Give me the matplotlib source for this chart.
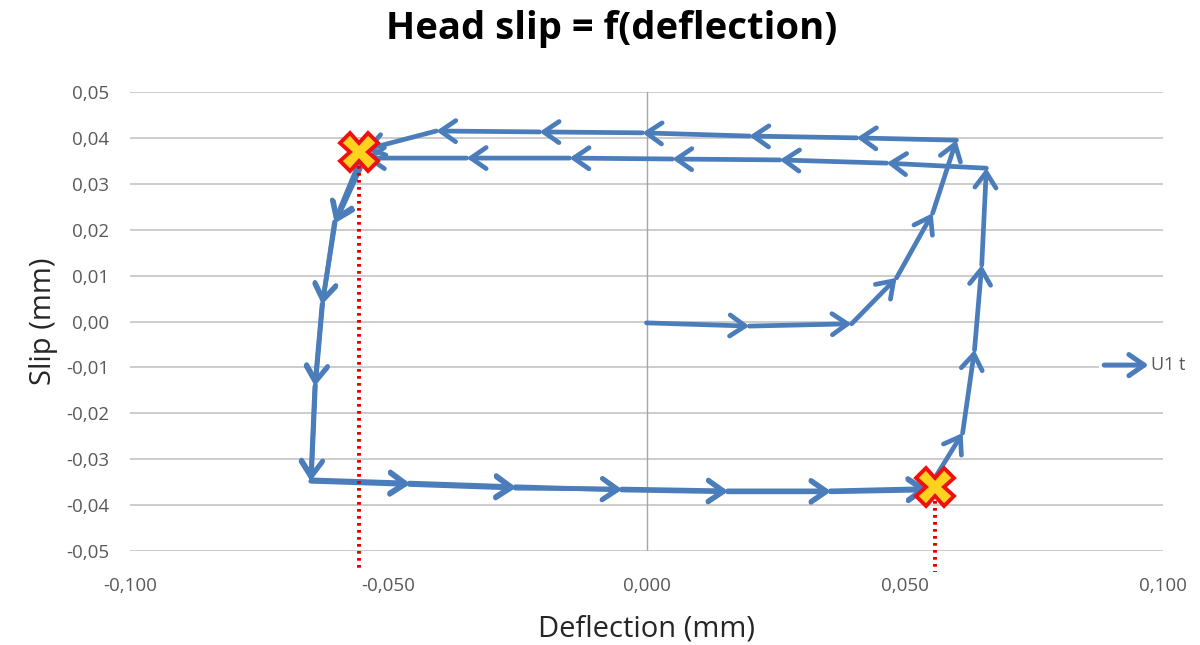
"""
Head slip = f(deflection) : boucle glissement / fleche avec fleches Excel.
"""

import matplotlib
matplotlib.use("Agg")
import matplotlib.pyplot as plt
from matplotlib.patches import Rectangle

# ── Donnees (mm) ─────────────────────────────────────────────────────────────
deflection = [
    0.0000, 0.0199, 0.0397, 0.0484, 0.0554, 0.0600,
    0.0407, 0.0199, -0.0008, -0.0207, -0.0407, -0.0546,
    -0.0604, -0.0627, -0.0641, -0.0649,
    -0.0459, -0.0254, -0.0048, 0.0157, 0.0356, 0.0544,
    0.0612, 0.0635, 0.0649, 0.0658,
    0.0465, 0.0258, 0.0050, -0.0149, -0.0348, -0.0545,
    -0.0603, -0.0628, -0.0642, -0.0650,
    -0.0459, -0.0254, -0.0048, 0.0157, 0.0356, 0.0544,
]
slip = [
    -0.0003, -0.0010, -0.0005, 0.0095, 0.0236, 0.0395,
    0.0400, 0.0404, 0.0411, 0.0413, 0.0415, 0.0374,
    0.0217, 0.0040, -0.0138, -0.0345,
    -0.0352, -0.0360, -0.0367, -0.0371, -0.0371, -0.0367,
    -0.0243, -0.0062, 0.0123, 0.0334,
    0.0345, 0.0352, 0.0354, 0.0356, 0.0356, 0.0356,
    0.0214, 0.0037, -0.0141, -0.0348,
    -0.0355, -0.0363, -0.0365, -0.0369, -0.0369, -0.0364,
]

mark_x = [-0.0556, 0.0558]
mark_y = [0.0369, -0.0361]

x_ticks = [-0.100, -0.050, 0.000, 0.050, 0.100]
x_labels = ["-0,100", "-0,050", "0,000", "0,050", "0,100"]
y_ticks = [-0.05, -0.04, -0.03, -0.02, -0.01, 0.00, 0.01, 0.02, 0.03, 0.04, 0.05]
y_labels = ["-0,05", "-0,04", "-0,03", "-0,02", "-0,01", "0,00",
            "0,01", "0,02", "0,03", "0,04", "0,05"]

SERIES_NAME = "U1 t"

COLORS = {
    "line": "#4A7DBA",
    "grid": "#C8C8C8",
    "zero": "#A6A6A6",
    "text": "#595959",
    "mark_face": "#FFD21F",
    "mark_edge": "#F01010",
    "dots": "#E00000",
}

plt.rcParams["font.family"] = ["Open Sans", "DejaVu Sans"]

fig = plt.figure(figsize=(12, 6.45), dpi=100)
ax = fig.add_axes([0.1083, 0.1457, 0.8609, 0.7117])
ax.set_xlim(-0.1, 0.1)
ax.set_ylim(-0.05, 0.05)

# ── Axes / grille ────────────────────────────────────────────────────────────
for s in ax.spines.values():
    s.set_visible(False)
ax.set_xticks(x_ticks)
ax.set_xticklabels(x_labels)
ax.set_yticks(y_ticks)
ax.set_yticklabels(y_labels)
ax.tick_params(length=0, labelsize=13.5, colors=COLORS["text"])
ax.tick_params(axis="x", pad=19)
ax.tick_params(axis="y", pad=15)
ax.grid(axis="y", color=COLORS["grid"], lw=1.3)
ax.set_axisbelow(True)
ax.axvline(0, color=COLORS["zero"], lw=1.0, zorder=1)

# ── Serie avec fleche a chaque point ─────────────────────────────────────────
for i in range(1, len(deflection)):
    ax.annotate(
        "", xy=(deflection[i], slip[i]),
        xytext=(deflection[i - 1], slip[i - 1]),
        arrowprops=dict(
            arrowstyle="->,head_length=0.55,head_width=0.38",
            color=COLORS["line"], lw=3.4, shrinkA=0, shrinkB=0,
            mutation_scale=20, capstyle="round", joinstyle="round",
        ),
        zorder=3,
    )

# ── Reperes croix + pointilles ───────────────────────────────────────────────
for mx, my in zip(mark_x, mark_y):
    ax.plot([mx, mx], [my, -0.0545], color=COLORS["dots"], lw=2.8,
            linestyle=(0, (0.7, 1.1)), clip_on=False, zorder=4)
ax.plot(mark_x, mark_y, linestyle="none", marker="X", markersize=27,
        markerfacecolor=COLORS["mark_face"], markeredgecolor=COLORS["mark_edge"],
        markeredgewidth=2.8, zorder=5)

# ── Legende ──────────────────────────────────────────────────────────────────
ax.add_patch(Rectangle((0.938, 0.38), 0.062, 0.05, transform=ax.transAxes,
                       facecolor="white", edgecolor="none", zorder=2,
                       clip_on=False))
ax.annotate(
    "", xy=(0.986, 0.405), xytext=(0.943, 0.405),
    xycoords="axes fraction", textcoords="axes fraction",
    arrowprops=dict(arrowstyle="->,head_length=0.55,head_width=0.38",
                    color=COLORS["line"], lw=3.6, shrinkA=0, shrinkB=0,
                    mutation_scale=20),
    zorder=3,
)
ax.text(0.9885, 0.405, SERIES_NAME, transform=ax.transAxes, ha="left",
        va="center", fontsize=13, color=COLORS["text"], clip_on=False)

# ── Titres ───────────────────────────────────────────────────────────────────
fig.text(0.51, 0.955, "Head slip = f(deflection)", ha="center", va="center",
         fontsize=27.5, fontweight="bold", color="black")
ax.set_xlabel("Deflection (mm)", fontsize=21, color="#262626", labelpad=14)
ax.set_ylabel("Slip (mm)", fontsize=21, color="#262626", labelpad=6)

fig.savefig("out.png", dpi=100, facecolor="white")
